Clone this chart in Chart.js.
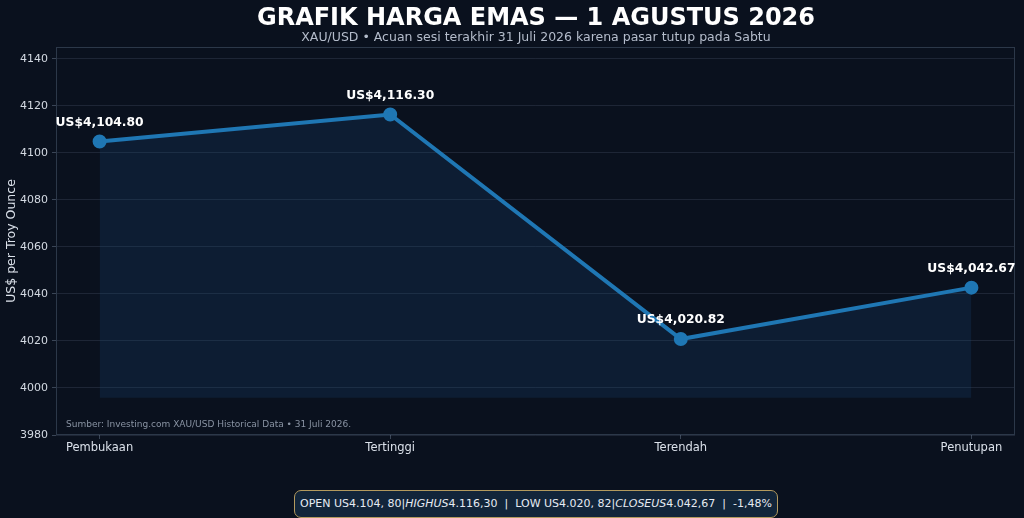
<!DOCTYPE html>
<html>
<head>
<meta charset="utf-8">
<script src="https://cdn.jsdelivr.net/npm/chart.js@4.4.1/dist/chart.umd.min.js"></script>
<style>
  html, body { margin: 0; padding: 0; background: #0a111e; }
  #wrap { position: relative; width: 1024px; height: 518px; overflow: hidden; font-family: "DejaVu Sans", sans-serif; }
  #chart { position: absolute; left: 0; top: 0; }
  #title { position: absolute; left: 0; width: 1072px; top: 3px; text-align: center; color: #ffffff; font-weight: bold; font-size: 24px; }
  #subtitle { position: absolute; left: 0; width: 1072px; top: 29px; text-align: center; color: #b4bccb; font-size: 12.5px; }
  #summary { position: absolute; left: 294px; top: 490px; width: 484px; height: 28px; box-sizing: border-box;
    border: 1px solid #b39a5e; border-radius: 7px; background: #12253a; color: #e6ebf2; font-size: 11px;
    line-height: 26px; text-align: center; white-space: pre; }
</style>
</head>
<body>
<div id="wrap">
  <canvas id="chart" width="1024" height="518"></canvas>
  <div id="title">GRAFIK HARGA EMAS — 1 AGUSTUS 2026</div>
  <div id="subtitle">XAU/USD • Acuan sesi terakhir 31 Juli 2026 karena pasar tutup pada Sabtu</div>
  <div id="summary">OPEN US4.104, 80|<i>HIGHUS</i>4.116,30  |  LOW US4.020, 82|<i>CLOSEUS</i>4.042,67  |  -1,48%</div>
</div>
<script>
// Data harga (US$ per troy ounce)
const categories = ['Pembukaan', 'Tertinggi', 'Terendah', 'Penutupan'];
const prices = [4104.80, 4116.30, 4020.82, 4042.67];
const priceLabels = ['US$4,104.80', 'US$4,116.30', 'US$4,020.82', 'US$4,042.67'];
const yTicks = [3980, 4000, 4020, 4040, 4060, 4080, 4100, 4120, 4140];
const fillBase = 3995.8;

const points = prices.map((p, i) => ({ x: i, y: p }));

// Bingkai, catatan sumber dan label harga
const extras = {
    id: 'extras',
    afterDraw(chart) {
        const c = chart.ctx;
        const a = chart.chartArea;
        c.save();
        c.strokeStyle = '#2c3849';
        c.lineWidth = 1;
        c.strokeRect(a.left + 0.5, a.top + 0.5, a.right - a.left - 1, a.bottom - a.top - 1);

        c.fillStyle = '#8993a3';
        c.font = '9px "DejaVu Sans"';
        c.textBaseline = 'middle';
        c.fillText('Sumber: Investing.com XAU/USD Historical Data • 31 Juli 2026.', a.left + 10, a.bottom - 10);

        const meta = chart.getDatasetMeta(0);
        c.fillStyle = '#ffffff';
        c.font = 'bold 12.3px "DejaVu Sans"';
        c.textAlign = 'center';
        meta.data.forEach((pt, i) => {
            c.fillText(priceLabels[i], pt.x, pt.y - 19);
        });
        c.restore();
    }
};

const ctx = document.getElementById('chart').getContext('2d');
const goldChart = new Chart(ctx, {
    type: 'line',
    data: {
        datasets: [{
            data: points,
            borderColor: '#1f77b4',
            borderWidth: 4,
            pointBackgroundColor: '#1f77b4',
            pointBorderColor: '#1f77b4',
            pointRadius: 5,
            tension: 0,
            fill: { value: fillBase },
            backgroundColor: 'rgba(24, 72, 120, 0.24)'
        }]
    },
    options: {
        responsive: false,
        animation: false,
        layout: { padding: { left: 4, right: 4, top: 47, bottom: 0 } },
        plugins: { legend: { display: false }, tooltip: { enabled: false } },
        scales: {
            x: {
                type: 'linear',
                min: -0.15,
                max: 3.15,
                afterBuildTicks: s => { s.ticks = categories.map((_, i) => ({ value: i })); },
                afterFit: s => { s.height = 83; },
                ticks: {
                    color: '#dbe1ea',
                    font: { family: 'DejaVu Sans', size: 11.5 },
                    padding: 2,
                    callback: v => categories[v]
                },
                grid: { drawOnChartArea: false, drawTicks: true, tickLength: 4, color: '#3a4556' },
                border: { display: false }
            },
            y: {
                min: 3980,
                max: 4145,
                afterBuildTicks: s => { s.ticks = yTicks.map(v => ({ value: v })); },
                afterFit: s => { s.width = 52; },
                ticks: {
                    color: '#d4dae3',
                    font: { family: 'DejaVu Sans', size: 11 },
                    padding: 4,
                    callback: v => String(v)
                },
                title: {
                    display: true,
                    text: 'US$ per Troy Ounce',
                    color: '#dbe1ea',
                    font: { family: 'DejaVu Sans', size: 12.5 },
                    padding: { top: 0, bottom: 0 }
                },
                grid: { color: 'rgba(120, 140, 165, 0.18)', tickColor: '#3a4556', tickLength: 4 },
                border: { display: false }
            }
        }
    },
    plugins: [extras]
});
</script>
</body>
</html>
